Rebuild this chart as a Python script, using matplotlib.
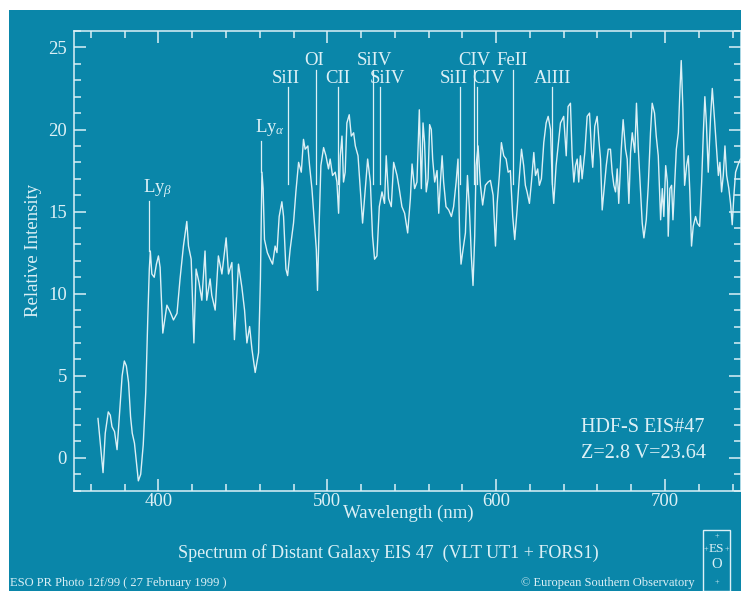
import matplotlib
matplotlib.use("Agg")
import matplotlib.pyplot as plt
from matplotlib.patches import Rectangle
from matplotlib.ticker import MultipleLocator

# spectrum of EIS 47 (wavelength in nm, relative intensity)
wavelength = [
    364.2, 365.5, 367.2, 368.5, 370.3, 371.5, 372.5, 374.0, 375.5, 377.0,
    378.5, 379.8, 381.0, 382.3, 383.5, 384.5, 385.8, 387.0, 388.1, 389.5,
    391.0, 392.5, 393.7, 394.6, 395.2, 396.1, 397.5, 398.8, 400.0, 401.0,
    402.6, 404.0, 405.0, 406.9, 408.9, 411.0, 412.8, 414.8, 416.8, 417.8,
    419.4, 421.0, 422.3, 424.0, 425.7, 427.6, 428.6, 430.6, 431.6, 433.6,
    435.5, 437.6, 440.1, 441.5, 443.5, 445.0, 447.4, 449.4, 451.0, 452.4,
    454.0, 455.4, 457.3, 459.3, 460.4, 461.3, 462.0, 462.8, 464.5, 466.2,
    467.6, 469.1, 470.2, 471.5, 473.1, 474.1, 475.5, 476.5, 478.0, 480.0,
    481.4, 483.0, 484.6, 485.9, 486.9, 488.5, 489.5, 490.9, 492.4, 493.5,
    494.2, 495.2, 496.2, 497.8, 499.2, 500.7, 501.7, 503.1, 504.7, 505.7,
    506.7, 507.7, 508.7, 509.6, 510.6, 511.6, 513.0, 514.2, 515.6, 516.6,
    518.2, 519.5, 520.9, 522.5, 523.9, 525.5, 526.8, 528.0, 529.4, 530.8,
    532.4, 533.9, 534.9, 536.3, 537.9, 539.3, 541.3, 542.6, 544.2, 545.8,
    547.6, 549.2, 550.2, 551.7, 553.1, 554.5, 555.7, 556.7, 557.6, 558.6,
    559.7, 560.6, 561.6, 562.4, 563.6, 565.0, 566.0, 567.0, 568.0, 568.9,
    570.3, 571.9, 573.5, 574.8, 576.3, 577.4, 578.4, 579.2, 580.4, 581.8,
    583.0, 584.1, 585.3, 586.3, 587.3, 588.1, 589.3, 590.7, 592.0, 593.6,
    595.2, 596.6, 598.2, 599.6, 600.6, 601.9, 603.1, 604.5, 605.9, 607.1,
    608.4, 609.8, 611.0, 612.4, 613.8, 615.0, 616.3, 617.3, 618.3, 619.7,
    620.9, 622.3, 623.3, 624.6, 625.6, 626.8, 628.2, 629.6, 630.8, 632.2,
    633.2, 634.1, 635.5, 636.7, 638.1, 639.1, 640.0, 641.5, 642.6, 644.0,
    645.0, 646.0, 647.0, 648.0, 648.9, 649.9, 650.9, 652.5, 653.9, 655.3,
    656.5, 657.2, 658.4, 659.8, 660.8, 661.8, 662.8, 663.8, 665.2, 666.4,
    667.7, 668.7, 669.7, 670.7, 671.7, 672.6, 674.1, 675.2, 676.6, 677.6,
    678.6, 679.6, 680.6, 682.1, 683.1, 684.1, 685.5, 686.5, 687.5, 688.9,
    690.1, 691.4, 692.4, 693.8, 694.8, 696.0, 697.4, 698.4, 699.3, 700.4,
    701.4, 701.9, 702.9, 703.9, 704.7, 705.8, 706.7, 707.9, 708.8, 709.6,
    710.6, 711.6, 712.8, 713.8, 714.7, 715.7, 716.7, 718.1, 719.1, 720.5,
    721.7, 722.7, 723.6, 724.5, 725.6, 727.0, 728.0, 729.2, 730.4, 731.6,
    732.5, 733.5, 734.5, 735.5, 736.5, 737.8, 738.8, 739.8, 740.8, 741.8,
    743.4, 744.7,
]
intensity = [
    2.4, 1.0, -0.9, 1.5, 2.8, 2.6, 1.9, 1.6, 0.5, 2.8,
    5.0, 5.9, 5.6, 4.6, 2.5, 1.5, 0.9, -0.3, -1.4, -1.0,
    0.8, 4.0, 8.5, 11.5, 12.6, 11.2, 11.0, 11.8, 12.3, 11.6,
    7.6, 8.6, 9.3, 8.9, 8.4, 8.8, 10.9, 12.9, 14.4, 12.9,
    12.1, 7.0, 11.5, 10.7, 9.6, 12.6, 9.6, 10.9, 9.9, 9.0,
    12.3, 11.2, 13.4, 11.2, 11.9, 7.2, 11.8, 10.4, 9.0, 7.0,
    8.0, 6.6, 5.2, 6.4, 10.9, 17.4, 16.4, 13.3, 12.5, 12.1,
    11.8, 12.9, 12.5, 14.7, 15.6, 14.7, 11.5, 11.1, 12.7, 14.3,
    16.2, 18.0, 17.4, 19.4, 18.8, 19.0, 17.8, 16.4, 14.3, 12.7,
    10.2, 14.3, 17.8, 18.9, 18.4, 17.6, 18.2, 17.2, 17.4, 16.8,
    14.9, 18.4, 19.6, 16.8, 17.4, 20.4, 20.9, 19.6, 19.8, 19.0,
    18.4, 16.4, 14.3, 16.4, 18.2, 16.8, 13.5, 12.1, 12.3, 15.3,
    16.2, 15.5, 18.4, 15.8, 15.3, 18.0, 17.2, 16.4, 15.3, 14.9,
    13.7, 15.8, 17.9, 16.4, 16.8, 21.2, 16.4, 20.4, 19.2, 16.2,
    17.0, 20.3, 20.0, 18.2, 16.8, 17.5, 14.9, 16.8, 18.4, 16.8,
    15.3, 15.1, 14.7, 15.3, 16.8, 18.2, 13.5, 11.8, 12.7, 13.7,
    17.2, 15.3, 12.3, 10.5, 13.5, 17.8, 19.0, 16.6, 15.4, 16.6,
    16.8, 16.9, 16.0, 12.9, 15.5, 17.2, 19.2, 18.4, 18.2, 17.4,
    17.5, 14.7, 13.3, 15.1, 17.2, 18.8, 17.8, 16.6, 16.2, 15.5,
    16.8, 18.6, 17.2, 17.6, 16.6, 17.0, 19.2, 20.4, 20.8, 20.0,
    16.8, 15.5, 17.8, 19.0, 20.4, 20.6, 20.8, 18.4, 21.4, 21.6,
    18.4, 16.8, 17.8, 18.2, 16.8, 18.4, 17.0, 18.6, 20.8, 21.0,
    18.6, 17.7, 20.2, 20.8, 19.4, 18.2, 15.1, 16.2, 17.8, 18.8,
    18.8, 17.4, 16.6, 16.2, 17.6, 15.5, 18.8, 20.6, 18.8, 18.2,
    15.5, 18.6, 19.8, 18.6, 21.6, 19.0, 16.2, 14.3, 13.4, 14.5,
    16.6, 19.8, 21.6, 21.0, 19.6, 18.4, 14.5, 16.4, 14.7, 17.8,
    16.8, 13.5, 16.4, 16.6, 14.5, 16.8, 18.8, 19.8, 22.3, 24.2,
    21.2, 16.6, 17.8, 18.4, 16.2, 12.9, 14.1, 14.7, 14.3, 14.1,
    16.8, 19.8, 22.0, 20.4, 17.4, 20.8, 22.5, 20.8, 19.0, 17.2,
    18.0, 16.2, 17.2, 19.0, 17.2, 16.4, 15.5, 14.2, 16.0, 17.4,
    17.9, 18.2,
]

# identified absorption lines: name, line wavelength, label centre, label row
line_names = ["SiII", "OI", "CII", "SiIV", "SiIV", "SiII", "CIV", "CIV", "FeII", "AlIII"]
line_wl = [476.9, 493.3, 506.2, 526.8, 531.0, 578.4, 587.1, 588.6, 609.8, 632.8]
label_wl = [475.5, 492.3, 506.2, 528.2, 535.7, 574.8, 587.1, 595.6, 609.7, 633.2]
label_upper = [False, True, False, True, False, False, True, False, True, False]

# Lyman lines: name, wavelength, label start, line top, line bottom
ly_names = [r"Ly$_\beta$", r"Ly$_\alpha$"]
ly_wl = [394.5, 460.7]
ly_label_wl = [390.7, 457.3]
ly_top = [15.65, 19.3]
ly_bottom = [12.6, 17.4]

BG = "#0a86a9"
FG = "#dcf0f6"
W, H = 741, 591

plt.rcParams["font.family"] = ["Liberation Serif", "DejaVu Serif"]
plt.rcParams["mathtext.fontset"] = "custom"
plt.rcParams["mathtext.rm"] = "Liberation Serif"
plt.rcParams["mathtext.it"] = "Liberation Serif:italic"


def fx(px):
    return px / W


def fy(py):
    return 1 - py / H


fig = plt.figure(figsize=(W / 100, H / 100), dpi=100)
fig.patch.set_facecolor("white")
fig.patches.append(Rectangle((fx(9), 0), 1, fy(10), transform=fig.transFigure,
                             facecolor=BG, edgecolor="none", zorder=-10))

ax = fig.add_axes([fx(74), fy(490.7), fx(741 - 74), (490.7 - 31) / H])
ax.set_facecolor(BG)
ax.plot(wavelength, intensity, color=FG, lw=1.0)
ax.set_xlim(350, 745)
ax.set_ylim(-2, 26)

for side in ax.spines.values():
    side.set_color(FG)
    side.set_linewidth(1.1)
ax.xaxis.set_major_locator(MultipleLocator(100))
ax.xaxis.set_minor_locator(MultipleLocator(20))
ax.yaxis.set_major_locator(MultipleLocator(5))
ax.yaxis.set_minor_locator(MultipleLocator(1))
ax.tick_params(which="both", direction="in", top=True, right=True, color=FG,
               labelcolor=FG, labelsize=13.5, width=1.1)
ax.tick_params(which="major", length=8.3)
ax.tick_params(which="minor", length=5)
ax.tick_params(axis="x", pad=2)
ax.tick_params(axis="y", pad=5)

# line identifications
for name, wl, lwl, up in zip(line_names, line_wl, label_wl, label_upper):
    top = 23.6 if up else 22.6
    ty = 24.2 if up else 23.1
    ax.plot([wl, wl], [top, 16.7], color=FG, lw=0.9)
    ax.text(lwl, ty, name, color=FG, fontsize=13.5, ha="center", va="center")
for name, wl, lwl, top, bot in zip(ly_names, ly_wl, ly_label_wl, ly_top, ly_bottom):
    ax.plot([wl, wl], [top, bot], color=FG, lw=0.9)
    ax.text(lwl, top + 0.55, name, color=FG, fontsize=13.5, ha="left", va="baseline")

fig.text(fx(581), fy(428), "HDF-S EIS#47", color=FG, fontsize=14.5, va="center")
fig.text(fx(581), fy(454), "Z=2.8 V=23.64", color=FG, fontsize=14.5, va="center")

fig.text(fx(34), fy(250.5), "Relative Intensity", color=FG, fontsize=13.5,
         rotation=90, ha="center", va="center")
fig.text(fx(408), fy(518), "Wavelength (nm)", color=FG, fontsize=13.5,
         ha="center", va="baseline")
fig.text(fx(388), fy(558), "Spectrum of Distant Galaxy EIS 47  (VLT UT1 + FORS1)",
         color=FG, fontsize=13, ha="center", va="baseline")
fig.text(fx(10), fy(583), "ESO PR Photo 12f/99 ( 27 February 1999 )", color=FG,
         fontsize=9, ha="left", va="center")
fig.text(fx(695), fy(583), "\u00a9 European Southern Observatory", color=FG,
         fontsize=9, ha="right", va="center")

# ESO logo
fig.patches.append(Rectangle((fx(703), 0), fx(27), fy(530), transform=fig.transFigure,
                             facecolor="none", edgecolor=FG, lw=1.0))
fig.text(fx(716.5), fy(536), "+", color=FG, fontsize=6, ha="center", va="center")
fig.text(fx(716.5), fy(549), "ES", color=FG, fontsize=9.5, ha="center", va="center")
fig.text(fx(706), fy(549), "+", color=FG, fontsize=6, ha="center", va="center")
fig.text(fx(727), fy(549), "+", color=FG, fontsize=6, ha="center", va="center")
fig.text(fx(716.5), fy(565), "O", color=FG, fontsize=10.5, ha="center", va="center")
fig.text(fx(716.5), fy(582), "+", color=FG, fontsize=6, ha="center", va="center")

fig.savefig("out.png", dpi=100, facecolor=fig.get_facecolor())
